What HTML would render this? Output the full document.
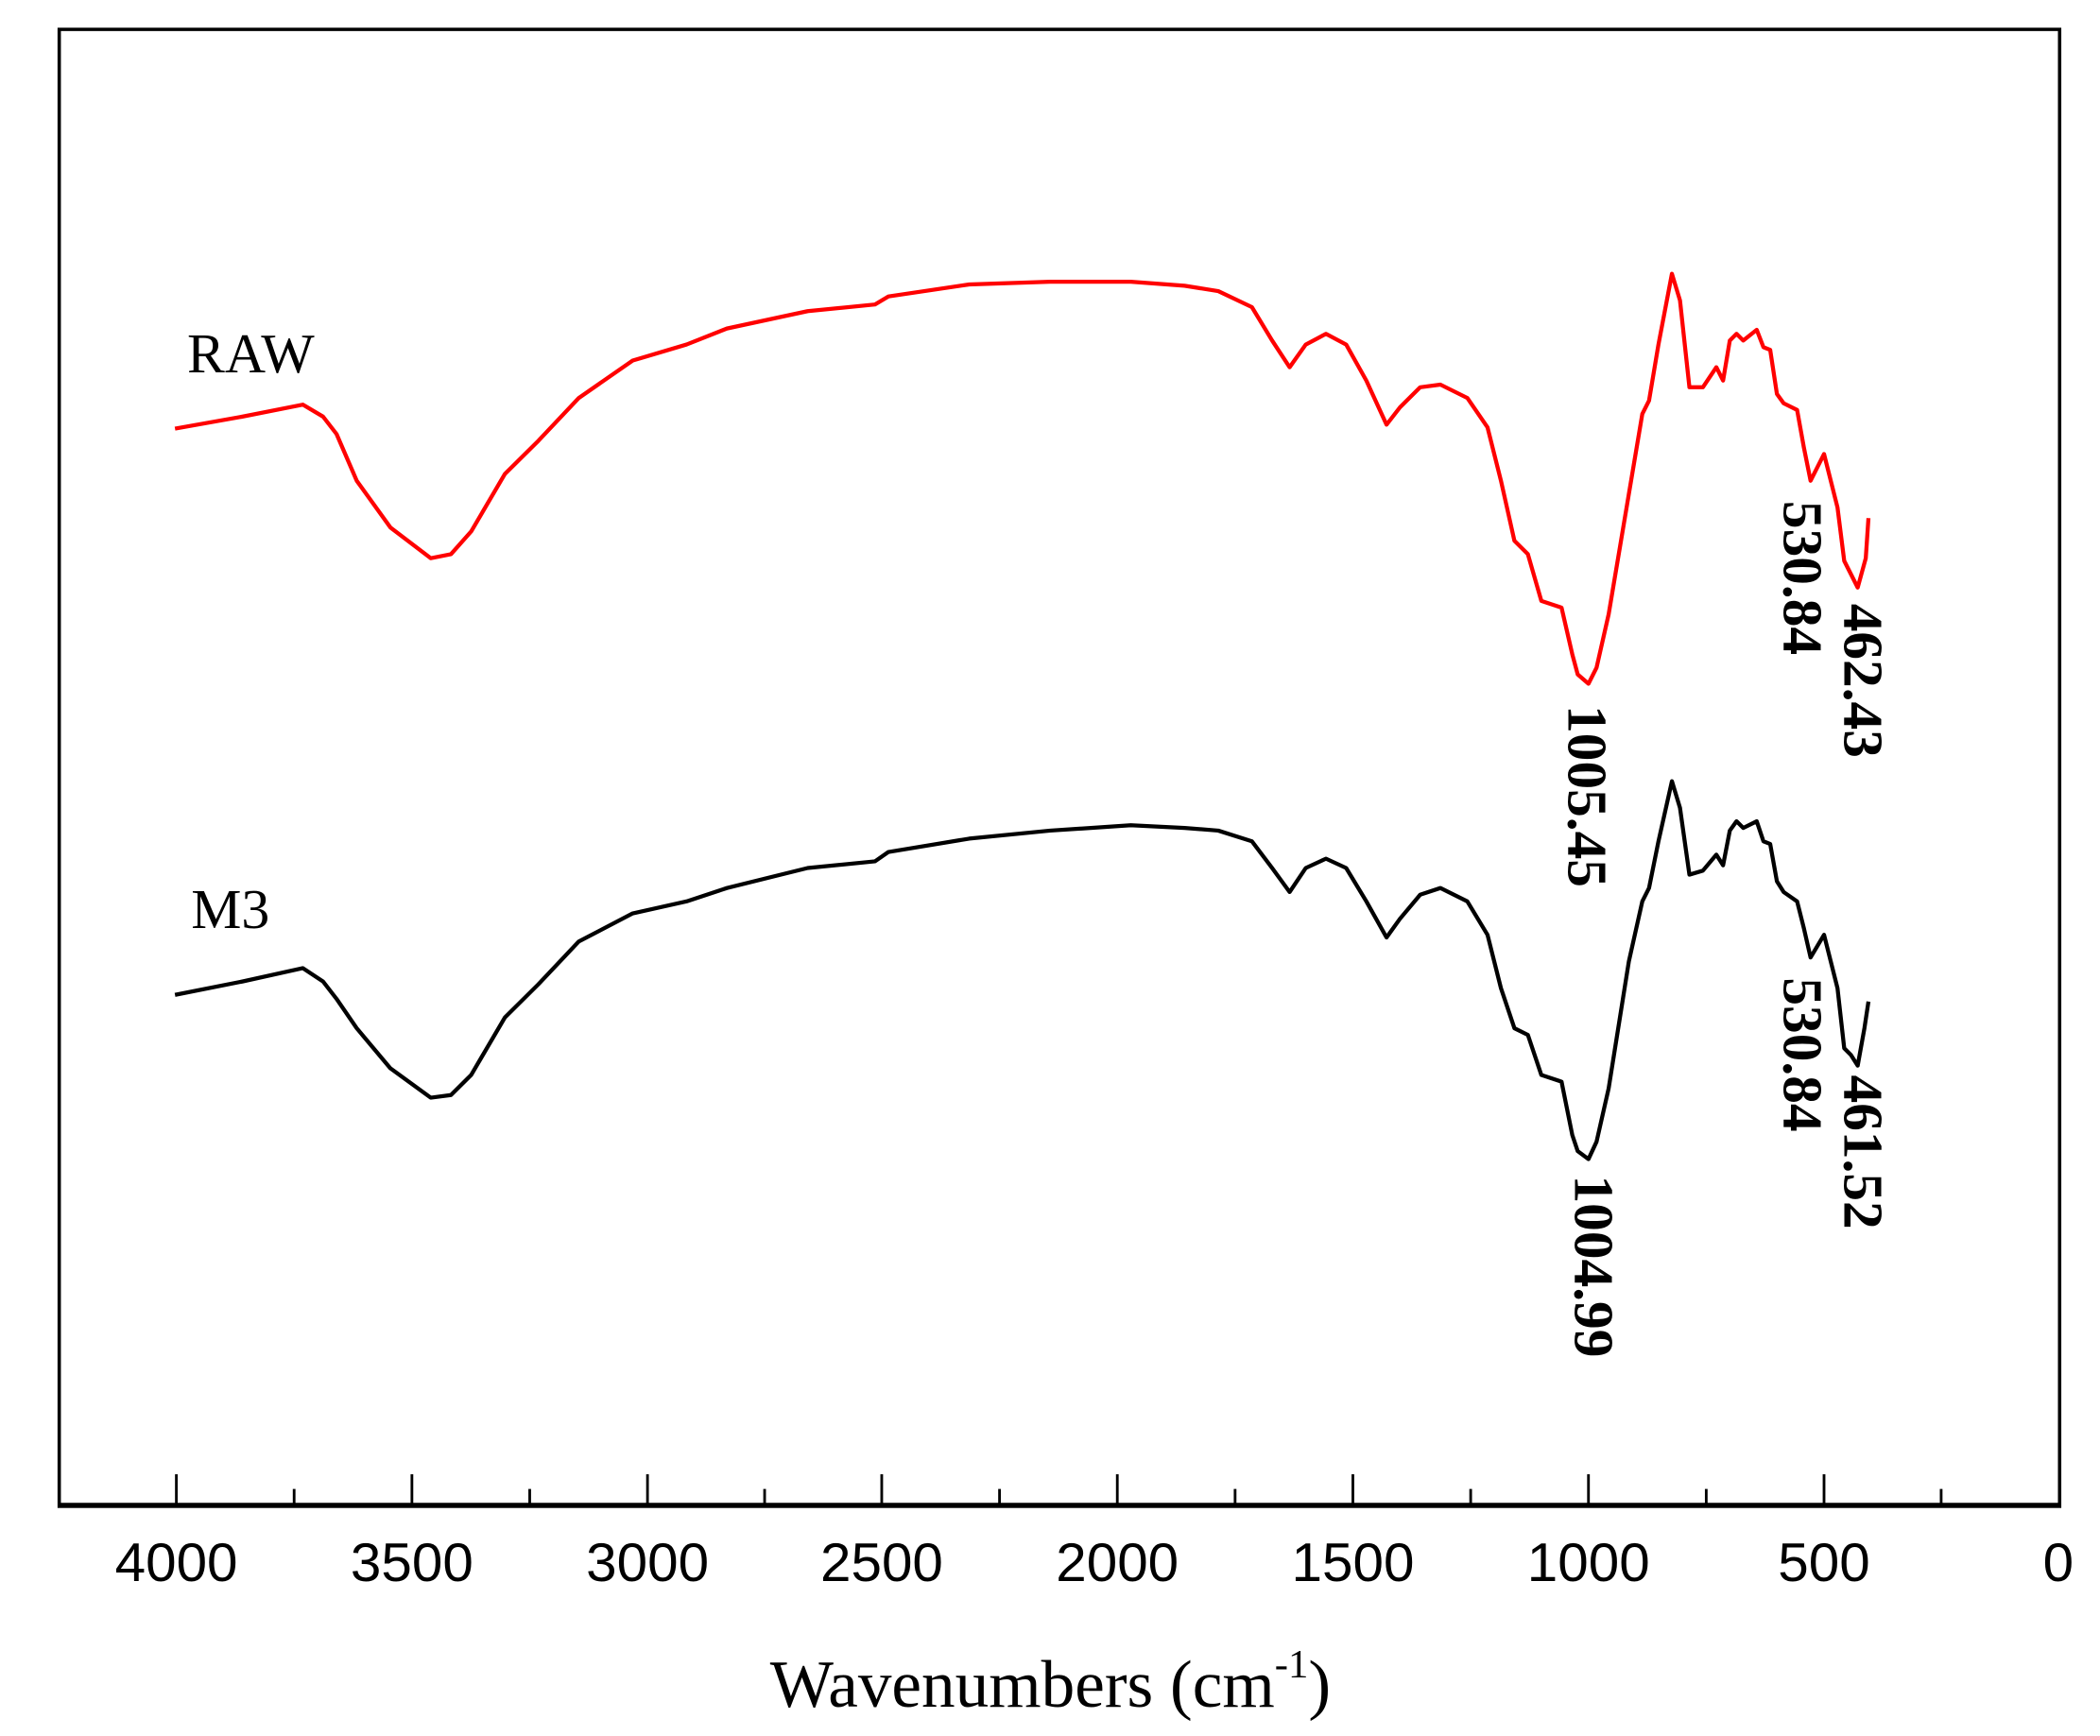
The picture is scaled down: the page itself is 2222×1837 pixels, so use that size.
<!DOCTYPE html>
<html><head><style>html,body{margin:0;padding:0;background:#fff}svg{display:block}</style></head>
<body>
<svg width="2222" height="1837" viewBox="0 0 1560 1300" preserveAspectRatio="none" xmlns="http://www.w3.org/2000/svg">
<rect x="0" y="0" width="1560" height="1300" fill="#fff"/>
<rect x="44" y="22" width="1486" height="1106" fill="none" stroke="#000" stroke-width="2.5"/>
<line x1="43" y1="1127" x2="1531" y2="1127" stroke="#000" stroke-width="3.2"/>
<g stroke="#000" stroke-width="2">
<line x1="131" y1="1127" x2="131" y2="1104"/><line x1="218.5" y1="1127" x2="218.5" y2="1115"/>
<line x1="306" y1="1127" x2="306" y2="1104"/><line x1="393.5" y1="1127" x2="393.5" y2="1115"/>
<line x1="481" y1="1127" x2="481" y2="1104"/><line x1="568" y1="1127" x2="568" y2="1115"/>
<line x1="655" y1="1127" x2="655" y2="1104"/><line x1="742.5" y1="1127" x2="742.5" y2="1115"/>
<line x1="830" y1="1127" x2="830" y2="1104"/><line x1="917.5" y1="1127" x2="917.5" y2="1115"/>
<line x1="1005" y1="1127" x2="1005" y2="1104"/><line x1="1092.5" y1="1127" x2="1092.5" y2="1115"/>
<line x1="1180" y1="1127" x2="1180" y2="1104"/><line x1="1267.5" y1="1127" x2="1267.5" y2="1115"/>
<line x1="1355" y1="1127" x2="1355" y2="1104"/><line x1="1442" y1="1127" x2="1442" y2="1115"/>
</g>
<g font-family="Liberation Sans, sans-serif" font-size="41" text-anchor="middle" fill="#000">
<text x="131" y="1184">4000</text><text x="306" y="1184">3500</text><text x="481" y="1184">3000</text>
<text x="655" y="1184">2500</text><text x="830" y="1184">2000</text><text x="1005" y="1184">1500</text>
<text x="1180" y="1184">1000</text><text x="1355" y="1184">500</text><text x="1529" y="1184">0</text>
</g>
<text x="572" y="1278" font-family="Liberation Serif, serif" font-size="50" fill="#000">Wavenumbers (cm<tspan dy="-22" font-size="30">-1</tspan><tspan dy="22">)</tspan></text>
<polyline fill="none" stroke="#ff0000" stroke-width="3" stroke-linejoin="round" points="130,321 180,312 225,303 240,312 250,325 265,360 290,395 320,418 335,415 350,398 375,355 400,330 430,298 470,270 510,258 540,246 600,233 650,228 660,222 720,213 780,211 840,211 880,214 905,218 930,230 945,255 958,275 970,258 985,250 1000,258 1015,285 1030,318 1040,305 1055,290 1070,288 1090,298 1105,320 1115,360 1125,405 1135,415 1145,450 1160,455 1168,490 1172,505 1180,512 1186,500 1195,460 1210,370 1220,310 1225,300 1232,258 1242,205 1248,225 1255,290 1265,290 1275,275 1280,285 1285,255 1290,250 1295,255 1305,247 1310,260 1315,262 1320,295 1325,302 1335,307 1340,335 1345,360 1355,340 1365,380 1370,420 1375,430 1380,440 1386,418 1388,388"/>
<polyline fill="none" stroke="#000" stroke-width="3" stroke-linejoin="round" points="130,745 180,735 225,725 240,735 250,748 265,770 290,800 320,822 335,820 350,805 375,762 400,737 430,705 470,684 510,675 540,665 600,650 650,645 660,638 720,628 780,622 840,618 880,620 905,622 930,630 945,650 958,668 970,650 985,643 1000,650 1015,675 1030,702 1040,688 1055,670 1070,665 1090,675 1105,700 1115,740 1125,770 1135,775 1145,805 1160,810 1168,850 1172,862 1180,868 1186,855 1195,815 1210,720 1220,675 1225,665 1232,630 1242,585 1248,605 1255,655 1265,652 1275,640 1280,648 1285,622 1290,615 1295,620 1305,615 1310,630 1315,632 1320,660 1325,668 1335,675 1340,695 1345,717 1355,700 1365,740 1370,785 1375,790 1380,798 1385,770 1388,750"/>
<g font-family="Liberation Serif, serif" font-size="42" fill="#000">
<text x="139" y="279">RAW</text>
<text x="142" y="695">M3</text>
</g>
<g font-family="Liberation Serif, serif" font-size="42" font-weight="bold" fill="#000">
<text transform="translate(1165,528) rotate(90)">1005.45</text>
<text transform="translate(1325,375) rotate(90)">530.84</text>
<text transform="translate(1370,452) rotate(90)">462.43</text>
<text transform="translate(1170,880) rotate(90)">1004.99</text>
<text transform="translate(1325,732) rotate(90)">530.84</text>
<text transform="translate(1370,805) rotate(90)">461.52</text>
</g>
</svg>
</body></html>
